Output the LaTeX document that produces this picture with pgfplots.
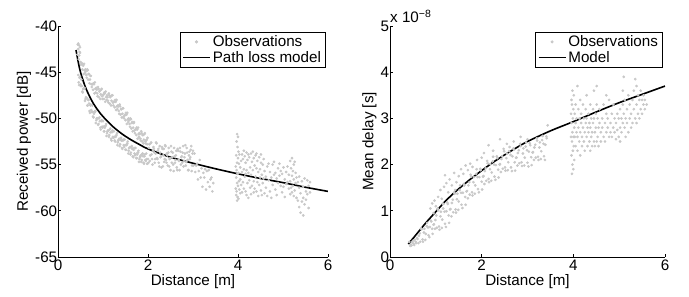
\documentclass[border=0pt]{standalone}
\usepackage{fontspec}
\setmainfont{Liberation Sans}
\usepackage{pgfplots}
\pgfplotsset{compat=1.18}
\definecolor{obs}{RGB}{200,200,200}
\newcommand{\fs}{\fontsize{15.2}{18}\selectfont}
\pgfplotsset{
  mstyle/.style={
    scale only axis, height=231pt,
    axis x line*=bottom, axis y line*=left,
    tick align=inside, major tick length=3pt,
    xmin=0, xmax=6, xtick={0,2,4,6},
    axis line style={line width=0.7pt, black},
    tick style={line width=0.7pt, black},
    tick label style={font=\fs},
    label style={font=\fs},
    yticklabel style={inner xsep=0.6pt},
    xticklabel style={inner ysep=2.5pt},
    /pgf/number format/assume math mode=true,
    xlabel={Distance [m]},
    xlabel style={yshift=2pt},
    legend cell align=left,
    legend style={font=\fs, draw=black, line width=0.7pt, fill=white,
      at={(rel axis cs:0.99,0.975)}, anchor=north east,
      inner xsep=2pt, inner ysep=1.5pt, row sep=-1pt},
    legend image code/.code={\draw[mark repeat=2,mark phase=2] plot coordinates {(0pt,0pt) (13.5pt,0pt) (27pt,0pt)};},
  },
  obsstyle/.style={only marks, mark=*, mark size=1.15pt, color=obs, mark options={draw=obs, fill=obs}},
  modstyle/.style={black, line width=1.6pt, no marks, smooth, legend image post style={line width=1.6pt}},
}
\begin{document}
\begin{tikzpicture}
\path[use as bounding box] (0,0) rectangle (689pt,297pt);
% ---------------- Left ----------------
\begin{axis}[mstyle, name=ax1, at={(58pt,40pt)}, anchor=south west, width=270pt,
  ymin=-65, ymax=-40, ytick={-65,-60,-55,-50,-45,-40},
  ylabel={Received power [dB]}]
\addplot[obsstyle] coordinates {
(0.43,-43.1)(0.45,-42.5)(0.47,-43.2)(0.49,-42.9)(0.51,-44.2)(0.53,-44.1)(0.55,-44.1)(0.57,-45.2)(0.59,-44.8)(0.61,-44.7)(0.63,-45.3)(0.65,-44.7)(0.67,-45.8)(0.69,-45.2)(0.71,-45.8)(0.73,-45.4)(0.75,-46.6)(0.77,-46.3)(0.79,-46.2)(0.81,-47.3)(0.83,-46.8)(0.85,-46.7)(0.87,-47.3)(0.89,-46.6)(0.91,-47.7)(0.93,-47.0)(0.95,-47.4)(0.97,-46.8)(0.99,-47.9)(1.01,-47.4)(1.03,-47.2)(1.05,-48.2)(1.07,-47.7)(1.09,-47.5)(1.11,-48.1)(1.13,-47.3)(1.15,-48.4)(1.17,-47.6)(1.19,-48.1)(1.21,-47.5)(1.23,-48.6)(1.25,-48.2)(1.27,-48.0)(1.29,-49.1)(1.31,-48.7)(1.33,-48.6)(1.35,-49.2)(1.37,-48.5)(1.39,-49.6)(1.41,-49.0)(1.43,-49.5)(1.45,-48.9)(1.47,-50.0)(1.49,-49.6)(1.51,-49.4)(1.53,-50.6)(1.55,-50.1)(1.57,-50.0)(1.59,-50.6)(1.61,-50.0)(1.63,-51.1)(1.65,-50.4)(1.67,-51.0)(1.69,-50.4)(1.71,-51.6)(1.73,-51.2)(1.75,-51.0)(1.77,-52.2)(1.79,-51.7)(1.81,-51.6)(1.83,-52.2)(1.85,-51.4)(1.87,-52.5)(1.89,-51.8)(1.91,-52.3)(1.93,-51.6)(1.95,-52.7)(1.97,-52.3)(1.99,-52.1)
(0.44,-42.0)(0.46,-43.6)(0.48,-42.8)(0.50,-43.9)(0.52,-44.0)(0.54,-44.7)(0.56,-44.3)(0.58,-44.1)(0.60,-45.1)(0.62,-44.9)(0.64,-45.6)(0.66,-44.8)(0.68,-45.2)(0.70,-46.2)(0.72,-45.4)(0.74,-46.3)(0.76,-46.3)(0.78,-46.9)(0.80,-46.3)(0.82,-46.1)(0.84,-47.2)(0.86,-46.9)(0.88,-47.6)(0.90,-46.8)(0.92,-47.1)(0.94,-47.9)(0.96,-46.9)(0.98,-47.6)(1.00,-47.5)(1.02,-47.9)(1.04,-47.3)(1.06,-47.1)(1.08,-48.0)(1.10,-47.7)(1.12,-48.3)(1.14,-47.5)(1.16,-47.7)(1.18,-48.6)(1.20,-47.5)(1.22,-48.3)(1.24,-48.2)(1.26,-48.8)(1.28,-48.2)(1.30,-48.0)(1.32,-49.0)(1.34,-48.7)(1.36,-49.5)(1.38,-48.7)(1.40,-49.0)(1.42,-49.9)(1.44,-48.9)(1.46,-49.8)(1.48,-49.7)(1.50,-50.2)(1.52,-49.6)(1.54,-49.4)(1.56,-50.4)(1.58,-50.2)(1.60,-50.9)(1.62,-50.1)(1.64,-50.5)(1.66,-51.4)(1.68,-50.5)(1.70,-51.3)(1.72,-51.2)(1.74,-51.8)(1.76,-51.2)(1.78,-51.0)(1.80,-52.0)(1.82,-51.7)(1.84,-52.4)(1.86,-51.6)(1.88,-51.8)(1.90,-52.7)(1.92,-51.7)(1.94,-52.5)(1.96,-52.4)(1.98,-52.8)
(0.45,-41.9)(0.47,-42.1)(0.49,-42.3)
(0.46,-46.1)(0.48,-45.6)(0.50,-46.3)(0.52,-45.8)(0.54,-47.1)(0.56,-46.8)(0.58,-46.8)(0.60,-48.1)(0.62,-47.7)(0.64,-47.8)(0.66,-48.6)(0.68,-48.0)(0.70,-49.2)(0.72,-48.6)(0.74,-49.1)(0.76,-48.6)(0.78,-49.8)(0.80,-49.5)(0.82,-49.3)(0.84,-50.5)(0.86,-50.0)(0.88,-50.0)(0.90,-50.6)(0.92,-49.9)(0.94,-51.0)(0.96,-50.3)(0.98,-50.9)(1.00,-50.3)(1.02,-51.4)(1.04,-51.0)(1.06,-50.8)(1.08,-51.9)(1.10,-51.4)(1.12,-51.3)(1.14,-51.8)(1.16,-51.1)(1.18,-52.2)(1.20,-51.5)(1.22,-52.0)(1.24,-51.4)(1.26,-52.4)(1.28,-52.0)(1.30,-51.8)(1.32,-52.9)(1.34,-52.4)(1.36,-52.2)(1.38,-52.8)(1.40,-52.1)(1.42,-53.2)(1.44,-52.4)(1.46,-52.9)(1.48,-52.3)(1.50,-53.4)(1.52,-52.9)(1.54,-52.7)(1.56,-53.8)(1.58,-53.2)(1.60,-53.1)(1.62,-53.7)(1.64,-53.0)(1.66,-54.1)(1.68,-53.4)(1.70,-53.8)(1.72,-53.2)(1.74,-54.3)(1.76,-53.9)(1.78,-53.7)(1.80,-54.7)(1.82,-54.2)(1.84,-54.0)(1.86,-54.5)(1.88,-53.8)(1.90,-54.8)(1.92,-54.1)(1.94,-54.5)(1.96,-53.8)(1.98,-54.9)(2.00,-54.4)
(0.45,-45.3)(0.47,-46.4)(0.49,-45.5)(0.51,-46.5)(0.53,-46.5)(0.55,-47.2)(0.57,-46.8)(0.59,-46.7)(0.61,-47.9)(0.63,-47.8)(0.65,-48.6)(0.67,-48.0)(0.69,-48.4)(0.71,-49.4)(0.73,-48.5)(0.75,-49.3)(0.77,-49.3)(0.79,-49.9)(0.81,-49.3)(0.83,-49.2)(0.85,-50.2)(0.87,-50.0)(0.89,-50.7)(0.91,-50.0)(0.93,-50.3)(0.95,-51.2)(0.97,-50.2)(0.99,-51.0)(1.01,-50.9)(1.03,-51.4)(1.05,-50.8)(1.07,-50.6)(1.09,-51.6)(1.11,-51.3)(1.13,-52.0)(1.15,-51.2)(1.17,-51.5)(1.19,-52.4)(1.21,-51.3)(1.23,-52.1)(1.25,-52.0)(1.27,-52.5)(1.29,-51.9)(1.31,-51.6)(1.33,-52.6)(1.35,-52.3)(1.37,-53.0)(1.39,-52.2)(1.41,-52.4)(1.43,-53.3)(1.45,-52.3)(1.47,-53.1)(1.49,-52.9)(1.51,-53.4)(1.53,-52.8)(1.55,-52.5)(1.57,-53.5)(1.59,-53.2)(1.61,-53.9)(1.63,-53.1)(1.65,-53.3)(1.67,-54.2)(1.69,-53.2)(1.71,-54.0)(1.73,-53.9)(1.75,-54.3)(1.77,-53.7)(1.79,-53.5)(1.81,-54.4)(1.83,-54.1)(1.85,-54.7)(1.87,-53.9)(1.89,-54.1)(1.91,-54.9)(1.93,-53.9)(1.95,-54.6)(1.97,-54.4)(1.99,-54.9)
(2.01,-54.8)(2.03,-52.8)(2.05,-54.0)(2.07,-52.6)(2.09,-54.4)(2.11,-53.5)(2.13,-53.3)(2.15,-54.8)(2.17,-53.8)(2.19,-52.7)(2.21,-54.4)(2.23,-53.3)(2.25,-55.2)(2.27,-53.7)(2.29,-54.1)(2.31,-53.1)(2.33,-55.2)(2.35,-53.3)(2.37,-54.4)(2.39,-53.0)(2.41,-54.8)(2.43,-54.0)(2.45,-53.7)(2.47,-55.2)(2.49,-54.3)(2.51,-53.0)(2.53,-54.8)(2.55,-53.7)(2.57,-55.7)(2.59,-54.1)(2.61,-54.5)(2.63,-53.5)(2.65,-55.6)(2.67,-53.5)(2.69,-54.6)(2.71,-53.2)(2.73,-55.0)(2.75,-54.1)(2.77,-53.7)(2.79,-55.2)(2.81,-54.2)(2.83,-52.9)(2.85,-54.7)(2.87,-53.7)(2.89,-55.6)(2.91,-54.0)(2.93,-54.4)(2.95,-53.4)(2.97,-55.7)(2.99,-53.8)(3.01,-55.1)(3.03,-53.8)(3.05,-55.8)(3.07,-55.1)(3.09,-54.9)(3.11,-56.6)(3.13,-55.7)(3.15,-54.5)(3.17,-56.4)(3.19,-55.4)(3.21,-57.4)(3.23,-55.9)(3.25,-56.4)(3.27,-55.5)(3.29,-57.7)(3.31,-55.7)(3.33,-56.9)(3.35,-55.6)(3.37,-57.4)(3.39,-56.6)(3.41,-56.4)(3.43,-57.9)(3.45,-57.0)
(2.02,-53.2)(2.04,-54.6)(2.06,-52.7)(2.08,-53.9)(2.10,-55.0)(2.12,-53.1)(2.14,-53.7)(2.16,-54.4)(2.18,-52.6)(2.20,-54.3)(2.22,-53.5)(2.24,-54.8)(2.26,-53.0)(2.28,-54.2)(2.30,-55.3)(2.32,-53.3)(2.34,-54.0)(2.36,-54.7)(2.38,-52.9)(2.40,-54.5)(2.42,-53.8)(2.44,-55.1)(2.46,-53.2)(2.48,-54.4)(2.50,-55.6)(2.52,-53.6)(2.54,-54.2)(2.56,-55.0)(2.58,-53.2)(2.60,-54.8)(2.62,-54.0)(2.64,-55.3)(2.66,-53.3)(2.68,-54.5)(2.70,-55.6)(2.72,-53.6)(2.74,-54.2)(2.76,-54.8)(2.78,-53.0)(2.80,-54.6)(2.82,-53.8)(2.84,-55.1)(2.86,-53.2)(2.88,-54.5)(2.90,-55.6)(2.92,-53.6)(2.94,-54.2)(2.96,-53.0)(2.98,-55.1)(3.00,-53.5)
(3.95,-55.2)(3.95,-57.6)(3.96,-54.0)(3.96,-56.4)(3.96,-58.3)(3.97,-52.5)(3.97,-55.6)(3.97,-57.9)(3.98,-51.7)(3.98,-54.8)(3.98,-57.0)(3.98,-58.9)(3.99,-53.1)(3.99,-56.0)(3.99,-58.5)(4.00,-52.0)(4.00,-54.3)(4.00,-57.3)(4.01,-53.6)(4.01,-55.9)(4.01,-58.7)(4.02,-54.9)(4.02,-56.8)(4.03,-53.9)(4.03,-57.7)
(4.05,-55.3)(4.05,-56.6)(4.05,-58.1)(4.07,-54.6)(4.07,-57.2)(4.09,-55.8)(4.09,-53.9)(4.09,-58.0)(4.11,-54.4)(4.11,-56.9)(4.13,-55.5)(4.13,-57.6)(4.13,-53.5)(4.15,-56.3)(4.15,-54.1)(4.17,-54.8)(4.17,-57.9)(4.17,-56.0)(4.19,-53.7)(4.19,-55.6)(4.19,-58.3)(4.21,-54.5)(4.21,-57.0)(4.23,-55.9)(4.23,-53.9)(4.23,-58.6)(4.25,-54.2)(4.25,-56.7)(4.27,-55.3)(4.27,-57.5)(4.29,-53.8)(4.29,-56.1)(4.29,-58.2)(4.31,-54.7)(4.31,-57.3)(4.33,-55.6)(4.33,-53.6)(4.35,-54.3)(4.35,-56.8)(4.35,-58.0)(4.37,-55.1)(4.37,-57.6)(4.39,-54.0)(4.39,-56.3)(4.41,-55.4)(4.41,-57.9)(4.41,-53.8)(4.43,-54.6)(4.43,-56.9)(4.45,-55.8)(4.45,-58.4)(4.47,-54.2)(4.47,-57.2)(4.49,-55.5)(4.49,-56.4)(4.51,-54.8)(4.51,-57.8)(4.51,-53.9)(4.53,-56.1)(4.53,-58.3)(4.55,-55.0)(4.55,-57.0)(4.57,-54.4)(4.57,-56.5)(4.59,-55.7)(4.59,-58.1)
(4.62,-56.3)(4.62,-57.5)(4.65,-55.2)(4.65,-58.4)(4.68,-56.7)(4.68,-54.9)(4.71,-55.8)(4.71,-57.9)(4.74,-56.4)(4.74,-58.6)(4.77,-55.0)(4.77,-57.2)(4.80,-54.7)(4.80,-56.1)(4.83,-55.9)(4.83,-57.7)(4.86,-56.5)(4.86,-58.3)(4.89,-55.4)(4.89,-57.0)(4.92,-56.2)(4.92,-54.9)(4.95,-57.3)(4.95,-55.7)(4.98,-56.0)(4.98,-58.0)(5.01,-55.3)(5.01,-57.4)(5.04,-56.6)(5.04,-58.5)(5.07,-55.8)(5.07,-57.1)(5.10,-56.9)(5.10,-55.2)(5.13,-57.6)(5.13,-56.1)
(5.16,-54.6)(5.16,-56.8)(5.16,-58.2)(5.18,-55.4)(5.18,-57.5)(5.20,-54.3)(5.20,-56.2)(5.20,-58.0)(5.22,-55.7)(5.22,-57.3)(5.24,-55.0)(5.24,-56.6)(5.24,-58.4)(5.26,-54.7)(5.26,-57.8)(5.28,-55.9)(5.28,-57.0)(5.30,-56.4)(5.30,-58.6)(5.33,-56.9)(5.33,-58.9)(5.36,-57.5)(5.36,-59.6)(5.36,-56.3)(5.39,-58.1)(5.39,-60.2)(5.42,-56.8)(5.42,-59.0)(5.45,-57.4)(5.45,-60.5)(5.45,-58.6)(5.48,-56.5)(5.48,-59.3)(5.51,-57.9)(5.51,-58.8)(5.54,-56.7)(5.54,-58.2)(5.57,-57.3)(5.57,-59.7)(5.60,-56.9)(5.60,-58.0)
};
\addlegendentry{Observations}
\addplot[modstyle] coordinates {
(0.4,-42.6)(0.45,-43.9)(0.5,-45.0)(0.6,-46.5)(0.7,-47.6)(0.8,-48.5)(0.9,-49.2)(1.0,-49.8)(1.2,-50.8)(1.4,-51.6)(1.6,-52.25)(1.8,-52.8)(2.0,-53.3)(2.5,-54.2)(3.0,-54.85)(3.5,-55.45)(4.0,-56.0)(4.5,-56.5)(5.0,-56.95)(5.5,-57.45)(6.0,-57.9)
};
\addlegendentry{Path loss model}
\end{axis}
% ---------------- Right ----------------
\begin{axis}[mstyle, name=ax2, at={(390pt,40pt)}, anchor=south west, width=275pt,
  ymin=0, ymax=5, ytick={0,1,2,3,4,5},
  ylabel={Mean delay [s]}]
\addplot[obsstyle] coordinates {
(0.42,0.33)(0.44,0.24)(0.45,0.27)(0.48,0.32)(0.51,0.29)(0.54,0.38)(0.57,0.30)(0.60,0.39)(0.63,0.46)(0.66,0.33)(0.69,0.60)(0.72,0.33)(0.75,0.61)(0.78,0.50)(0.81,0.74)(0.84,0.47)(0.87,0.65)(0.90,0.77)(0.93,0.50)(0.96,0.71)(0.99,0.80)(1.02,0.63)(1.05,1.01)(1.08,0.59)(1.11,0.98)(1.14,0.81)(1.17,1.15)(1.20,0.72)(1.23,0.99)(1.26,1.15)(1.29,0.74)(1.32,1.04)(1.35,1.17)(1.38,0.97)(1.41,1.37)(1.44,0.96)(1.47,1.37)(1.50,1.20)(1.53,1.55)(1.56,1.13)(1.59,1.39)(1.62,1.55)(1.65,1.13)(1.68,1.43)(1.71,1.55)(1.74,1.35)(1.77,1.74)(1.80,1.33)(1.83,1.73)(1.86,1.55)(1.89,1.90)(1.92,1.47)(1.95,1.73)(1.98,1.88)(2.01,1.46)(2.04,1.75)(2.07,1.86)(2.10,1.65)(2.13,2.03)(2.16,1.62)(2.19,2.01)(2.22,1.83)(2.25,2.17)(2.28,1.74)(2.31,1.99)(2.34,2.14)(2.37,1.72)(2.40,2.01)(2.43,2.12)(2.46,1.91)(2.49,2.29)(2.52,1.87)(2.55,2.24)(2.58,2.05)(2.61,2.38)(2.64,1.94)(2.67,2.18)(2.70,2.32)(2.73,1.87)(2.76,2.15)(2.79,2.25)(2.82,2.03)(2.85,2.40)(2.88,1.97)(2.91,2.35)(2.94,2.15)(2.97,2.48)(3.00,2.04)(3.03,2.28)(3.06,2.42)(3.09,1.99)(3.12,2.27)(3.15,2.37)(3.18,2.15)(3.21,2.52)(3.24,2.10)(3.27,2.48)(3.30,2.29)(3.33,2.62)(3.36,2.18)(3.39,2.43)(3.42,2.57)(3.44,2.85)
(0.47,0.25)(0.50,0.35)(0.53,0.26)(0.56,0.33)(0.59,0.41)(0.62,0.30)(0.65,0.51)(0.68,0.62)(0.71,0.38)(0.74,0.53)(0.77,0.37)(0.80,0.67)(0.83,0.64)(0.86,0.43)(0.89,0.79)(0.92,0.61)(0.95,0.70)(0.98,0.61)(1.01,0.90)(1.04,1.05)(1.07,0.66)(1.10,0.88)(1.13,0.63)(1.16,1.05)(1.19,0.98)(1.22,0.65)(1.25,1.18)(1.28,0.90)(1.31,1.03)(1.34,0.88)(1.37,1.24)(1.40,1.40)(1.43,1.03)(1.46,1.25)(1.49,1.02)(1.52,1.45)(1.55,1.39)(1.58,1.06)(1.61,1.58)(1.64,1.30)(1.67,1.42)(1.70,1.27)(1.73,1.62)(1.76,1.78)(1.79,1.40)(1.82,1.62)(1.85,1.37)(1.88,1.80)(1.91,1.73)(1.94,1.40)(1.97,1.91)(2.00,1.63)(2.03,1.74)(2.06,1.58)(2.09,1.92)(2.12,2.08)(2.15,1.69)(2.18,1.90)(2.21,1.65)(2.24,2.07)(2.27,2.00)(2.30,1.67)(2.33,2.18)(2.36,1.89)(2.39,2.00)(2.42,1.84)(2.45,2.18)(2.48,2.34)(2.51,1.94)(2.54,2.14)(2.57,1.88)(2.60,2.29)(2.63,2.21)(2.66,1.86)(2.69,2.35)(2.72,2.05)(2.75,2.15)(2.78,1.98)(2.81,2.31)(2.84,2.45)(2.87,2.05)(2.90,2.24)(2.93,1.98)(2.96,2.39)(2.99,2.31)(3.02,1.96)(3.05,2.46)(3.08,2.16)(3.11,2.26)(3.14,2.10)(3.17,2.43)(3.20,2.57)(3.23,2.17)(3.26,2.37)(3.29,2.12)(3.32,2.53)(3.35,2.45)(3.38,2.10)(3.41,2.61)
(0.88,1.05)(0.92,1.16)(0.97,1.22)(1.00,1.10)(1.05,1.30)(1.10,1.45)(1.13,1.26)(1.18,1.52)(1.20,1.77)(1.23,1.60)(1.27,1.40)(1.30,1.68)(1.35,1.55)(1.40,1.82)(1.45,1.62)(1.50,1.75)(1.55,1.90)(1.60,1.80)(1.65,1.98)(1.70,1.88)(1.75,2.02)(1.80,1.95)(1.90,2.10)(2.00,2.15)(2.05,2.25)(2.15,2.42)(2.25,2.30)(2.40,2.55)(2.55,2.45)(2.70,2.50)(2.85,2.60)(3.00,2.55)(0.95,0.95)(1.15,1.15)(1.42,1.45)
(3.95,2.6)(3.95,3.1)(3.96,2.2)(3.96,2.9)(3.96,3.4)(3.97,1.8)(3.97,2.5)(3.97,3.3)(3.98,2.0)(3.98,2.7)(3.98,3.6)(3.99,2.3)(3.99,3.0)(4.00,1.9)(4.00,2.6)(4.00,3.2)(4.01,2.4)(4.01,3.5)(4.02,2.1)(4.02,2.8)(4.03,2.6)(4.03,3.1)
(4.05,2.4)(4.05,2.9)(4.05,3.3)(4.07,2.7)(4.07,3.0)(4.09,2.3)(4.09,2.6)(4.09,3.7)(4.11,2.8)(4.11,3.2)(4.13,2.5)(4.13,3.0)(4.15,2.2)(4.15,2.7)(4.15,3.4)(4.17,2.9)(4.17,3.1)(4.19,2.4)(4.19,2.6)(4.21,2.8)(4.21,3.3)(4.23,2.5)(4.23,3.0)(4.25,2.3)(4.25,2.7)(4.27,2.9)(4.27,3.2)(4.29,2.6)(4.29,3.0)(4.29,3.5)(4.31,2.4)(4.31,2.8)(4.33,2.7)(4.33,3.1)(4.35,2.5)(4.35,2.9)(4.37,2.3)(4.37,2.8)(4.37,3.3)(4.39,2.6)(4.39,3.0)(4.41,2.4)(4.41,2.7)(4.43,2.9)(4.43,3.2)(4.45,2.5)(4.45,3.0)(4.45,3.6)(4.47,2.7)(4.47,2.4)(4.49,2.8)(4.49,3.1)(4.51,2.5)(4.51,3.3)(4.51,3.7)(4.53,2.6)(4.53,3.0)(4.55,2.4)(4.55,2.8)(4.57,2.9)(4.57,3.2)
(4.60,2.5)(4.60,2.7)(4.63,2.8)(4.63,3.0)(4.66,2.6)(4.66,3.3)(4.69,2.9)(4.69,2.5)(4.72,2.7)(4.72,3.1)(4.72,3.5)(4.75,2.8)(4.75,3.0)(4.78,2.6)(4.78,3.4)(4.81,2.9)(4.81,2.7)(4.84,3.1)(4.84,2.6)(4.87,2.8)(4.87,3.3)(4.90,2.7)(4.90,3.0)(4.93,2.9)(4.93,2.55)(4.96,3.1)(4.96,2.75)(4.99,2.6)(4.99,3.0)(5.02,2.8)(5.02,3.2)(5.02,2.5)(5.05,3.0)(5.05,2.7)(5.08,3.3)(5.08,2.9)(5.08,3.6)(5.10,3.9)(5.10,3.1)(5.12,2.8)(5.12,3.4)(5.14,3.0)(5.14,2.6)(5.17,3.2)(5.17,2.9)(5.20,2.7)(5.20,3.5)(5.23,3.0)(5.23,3.3)(5.26,2.8)(5.26,3.1)(5.29,3.4)(5.29,2.9)(5.32,3.2)(5.32,3.6)(5.35,3.0)(5.35,3.85)(5.38,3.3)(5.38,2.9)(5.38,3.7)(5.41,3.1)(5.41,3.5)(5.44,3.4)(5.44,3.0)(5.47,3.2)(5.47,3.6)(5.50,3.4)(5.50,3.1)(5.53,3.3)(5.53,3.5)(5.56,3.2)(5.56,3.4)(5.60,3.3)
};
\addlegendentry{Observations}
\addplot[modstyle] coordinates {
(0.4,0.28)(0.6,0.52)(0.8,0.76)(1.0,0.98)(1.2,1.2)(1.4,1.39)(1.6,1.56)(1.8,1.72)(2.0,1.87)(2.25,2.05)(2.5,2.21)(2.75,2.36)(3.0,2.5)(3.5,2.73)(4.0,2.93)(4.5,3.14)(5.0,3.34)(5.5,3.52)(6.0,3.7)
};
\addlegendentry{Model}
\end{axis}
\node[anchor=base west, inner sep=0pt, font=\fs] at ([yshift=3.5pt]ax2.north west) {x 10\textsuperscript{\fontsize{10.5}{12}\selectfont −8}};
\end{tikzpicture}
\end{document}
